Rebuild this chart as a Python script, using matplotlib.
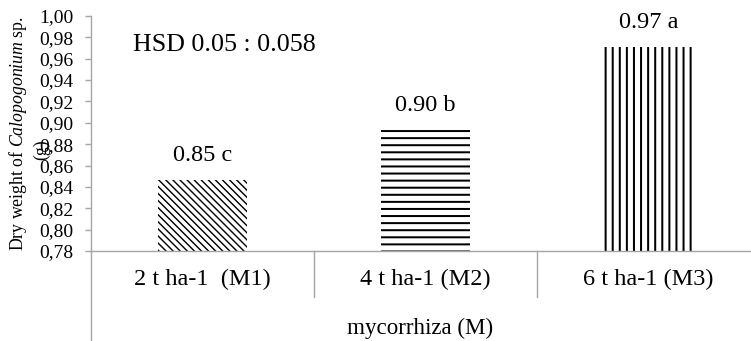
import matplotlib
matplotlib.use("Agg")
import matplotlib.pyplot as plt
from matplotlib.ticker import FuncFormatter, MultipleLocator

categories = ["2 t ha-1  (M1)", "4 t ha-1 (M2)", "6 t ha-1 (M3)"]
values = [0.8465, 0.894, 0.971]
labels = ["0.85 c", "0.90 b", "0.97 a"]
hatches = ["\\\\\\\\", "--", "||"]
hatch_widths = [1.2, 1.7, 1.7]
hsd_text = "HSD 0.05 : 0.058"

plt.rcParams["font.family"] = ["Liberation Serif", "DejaVu Serif"]
plt.rcParams["mathtext.fontset"] = "custom"
plt.rcParams["mathtext.rm"] = "Liberation Serif"
plt.rcParams["mathtext.it"] = "Liberation Serif:italic"
plt.rcParams["hatch.linewidth"] = 1.6

DPI = 85
W, H = 751, 341
fig = plt.figure(figsize=(W / DPI, H / DPI), dpi=DPI)
ax = fig.add_axes([91 / W, 90 / H, 669 / W, 235 / H])

gray = "#a6a6a6"
x = list(range(len(categories)))
bars = ax.bar(x, values, width=0.40, color="white", edgecolor="black", linewidth=0)
for b, h, hw in zip(bars, hatches, hatch_widths):
    b.set_hatch(h)
    if hasattr(b, "set_hatch_linewidth"):
        b.set_hatch_linewidth(hw)

for xi, v, lab in zip(x, values, labels):
    ax.annotate(lab, (xi, v), xytext=(0, 20.5), textcoords="offset points",
                ha="center", va="center", fontsize=20.5)

ax.set_xlim(-0.5, 2.5)
ax.set_ylim(0.78, 1.00)
ax.yaxis.set_major_locator(MultipleLocator(0.02))
ax.yaxis.set_major_formatter(FuncFormatter(lambda v, p: f"{v:.2f}".replace(".", ",")))

for s in ["top", "right"]:
    ax.spines[s].set_visible(False)
ax.spines["left"].set_color(gray)
ax.spines["bottom"].set_color(gray)
ax.spines["left"].set_linewidth(1.2)
ax.spines["bottom"].set_linewidth(1.2)

ax.tick_params(axis="y", colors=gray, labelcolor="black", length=5, width=1.2,
               labelsize=16.5, pad=10)
ax.set_xticks(x)
ax.set_xticklabels(categories)
ax.tick_params(axis="x", length=0, labelsize=20.5, pad=15)

# category dividers and extended y-axis line
for d in [0.5, 1.5]:
    ax.plot([d, d], [0, -0.195], transform=ax.get_xaxis_transform(),
            color=gray, lw=1.2, clip_on=False)
ax.plot([-0.5, -0.5], [0, -0.40], transform=ax.get_xaxis_transform(),
        color=gray, lw=1.2, clip_on=False)

ax.set_xlabel("mycorrhiza (M)", fontsize=19.5)
ax.xaxis.label.set_va("center")
ax.xaxis.set_label_coords(0.492, -0.328)

fig.text(18 / W, 1 - 133 / H, r"Dry weight of $\mathit{Calopogonium}$ sp.",
         rotation=90, ha="center", va="center", fontsize=15)
fig.text(42 / W, 1 - 150 / H, "(g)", rotation=90, ha="center", va="center",
         fontsize=15)

ax.text((133 - 91) / 669, (251 - 45) / 235, hsd_text, transform=ax.transAxes,
        ha="left", va="center", fontsize=22)

fig.savefig("out.png", dpi=DPI)
